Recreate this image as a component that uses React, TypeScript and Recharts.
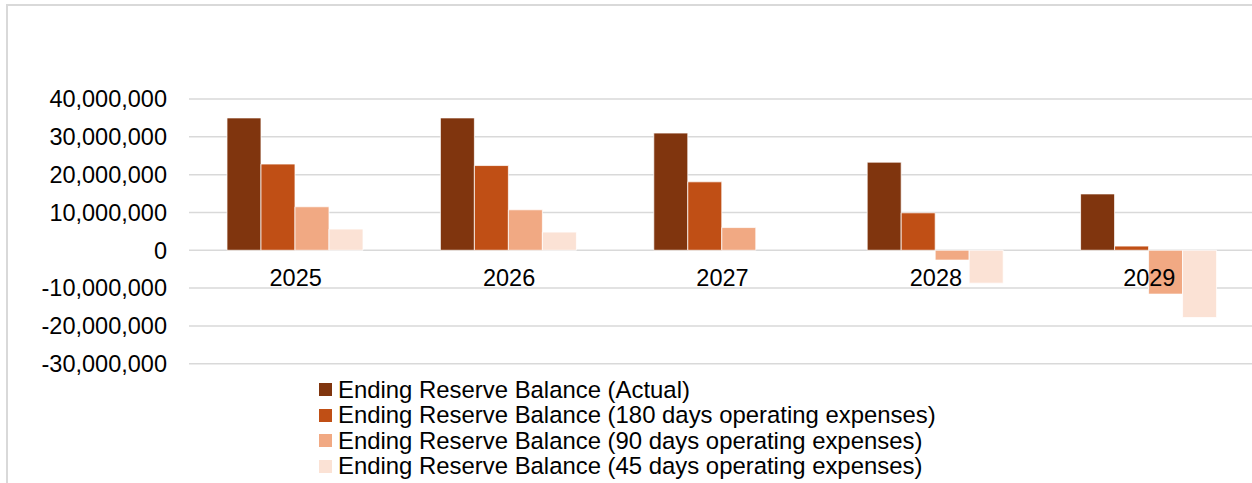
import { BarChart, Bar, XAxis, YAxis, CartesianGrid, Legend } from "recharts";

const years = ["2025", "2026", "2027", "2028", "2029"];
const actual = [35000000, 35000000, 31000000, 23300000, 14900000];
const days180 = [22800000, 22400000, 18100000, 9900000, 1100000];
const days90 = [11500000, 10700000, 6000000, -2600000, -11600000];
const days45 = [5600000, 4800000, 0, -8700000, -17800000];
const yTicks = [-30000000, -20000000, -10000000, 0, 10000000, 20000000, 30000000, 40000000];

const SERIES = [
  { key: "actual", name: "Ending Reserve Balance (Actual)", color: "#80350E" },
  { key: "days180", name: "Ending Reserve Balance (180 days operating expenses)", color: "#C04F15" },
  { key: "days90", name: "Ending Reserve Balance (90 days operating expenses)", color: "#F1A983" },
  { key: "days45", name: "Ending Reserve Balance (45 days operating expenses)", color: "#FBE2D5" },
];

const FONT = '"Liberation Sans", Arial, sans-serif';
const CHART_W = 1256;
const CHART_H = 483;
const MARGIN_TOP = 99;
const XAXIS_H = 119.3;
const PLOT_H = CHART_H - MARGIN_TOP - XAXIS_H;
const Y_MIN = -30000000;
const Y_MAX = 40000000;

const data = years.map((year, i) => ({
  year,
  actual: actual[i],
  days180: days180[i],
  days90: days90[i],
  days45: days45[i],
}));

// category labels sit just under the zero line, like Excel does
function YearTick(props: any) {
  const { x, y, payload } = props;
  const zeroY = y - (PLOT_H * (0 - Y_MIN)) / (Y_MAX - Y_MIN);
  return (
    <text
      x={x}
      y={zeroY + 36}
      textAnchor="middle"
      fill="#000"
      style={{ fontSize: "23.5px", fontFamily: FONT }}
    >
      {payload.value}
    </text>
  );
}

function LegendList({ payload }: any) {
  // keep the series order, recharts sorts the payload by name
  const order = SERIES.map((s) => s.name);
  const items = [...(payload || [])].sort(
    (a: any, b: any) => order.indexOf(a.value) - order.indexOf(b.value)
  );
  return (
    <div style={{ fontFamily: FONT, fontSize: "23.9px", color: "#000" }}>
      {items.map((entry: any, idx: number) => (
        <div
          key={idx}
          style={{ display: "flex", alignItems: "center", height: "25.5px", whiteSpace: "nowrap" }}
        >
          <span
            style={{
              display: "inline-block",
              width: 13,
              height: 13,
              background: entry.color,
              marginRight: 6,
            }}
          />
          <span>{entry.value}</span>
        </div>
      ))}
    </div>
  );
}

export default function App() {
  return (
    <div
      style={{
        position: "absolute",
        left: 0,
        top: 0,
        width: 1252,
        height: 483,
        overflow: "hidden",
        background: "#fff",
      }}
    >
      <div
        style={{
          position: "absolute",
          left: 6,
          top: 4,
          width: 1300,
          height: 600,
          border: "2px solid #d9d9d9",
        }}
      />
      <div style={{ position: "absolute", left: 0, top: 0 }}>
        <BarChart
          width={CHART_W}
          height={CHART_H}
          data={data}
          margin={{ top: MARGIN_TOP, right: 0, left: 0, bottom: 0 }}
          barCategoryGap="17.8%"
          barGap={0}
        >
          <CartesianGrid horizontal vertical={false} stroke="#d9d9d9" strokeWidth={1.5} />
          <YAxis
            width={189}
            domain={[Y_MIN, Y_MAX]}
            ticks={yTicks}
            interval={0}
            axisLine={false}
            tickLine={false}
            tickSize={0}
            tickMargin={22}
            tickFormatter={(v: number) => v.toLocaleString("en-US")}
            tick={{ fill: "#000", fontSize: 23.5, fontFamily: FONT }}
          />
          {SERIES.map((s) => (
            <Bar
              key={s.key}
              dataKey={s.key}
              name={s.name}
              fill={s.color}
              stroke="#ffffff"
              strokeWidth={0.75}
              isAnimationActive={false}
            />
          ))}
          <XAxis
            dataKey="year"
            height={XAXIS_H}
            axisLine={false}
            tickLine={false}
            tickSize={0}
            tickMargin={0}
            interval={0}
            tick={<YearTick />}
          />
          <Legend
            layout="vertical"
            align="center"
            verticalAlign="middle"
            content={<LegendList />}
            wrapperStyle={{ left: 319, top: 377, width: "auto" }}
          />
        </BarChart>
      </div>
    </div>
  );
}
